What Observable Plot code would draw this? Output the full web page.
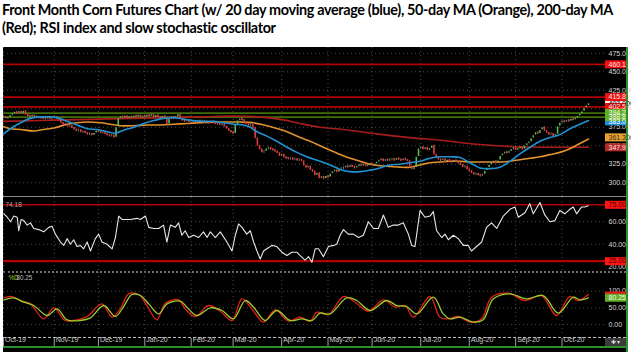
<!DOCTYPE html>
<html><head><meta charset="utf-8">
<script src="https://cdn.jsdelivr.net/npm/d3@7"></script>
<script src="https://cdn.jsdelivr.net/npm/@observablehq/plot@0.6"></script>
<style>
body{margin:0;background:#fff;}
#wrap{position:relative;width:631px;height:352px;overflow:hidden;background:#fff;}
#title{position:absolute;left:2px;top:1px;white-space:nowrap;font-family:Lato,"Open Sans",sans-serif;font-weight:700;font-size:14.4px;line-height:18px;color:#000;}
#chart{position:absolute;left:3px;top:47px;width:625px;height:305px;background:#000;}
#chart svg{position:absolute;left:0;display:block;}
.sep{position:absolute;left:0;width:623px;}
</style></head>
<body><div id="wrap">
<div id="title"><span id="t1">Front Month Corn Futures Chart (w/ 20 day moving average (blue), 50-day MA (Orange), 200-day MA</span><br><span id="t2">(Red); RSI index and slow stochastic oscillator</span></div>
<div id="chart"></div>
</div>
<script>
// ---------- DATA ----------
const monthLabels = ["Oct-19","Nov-19","Dec-19","Jan-20","Feb-20","Mar-20","Apr-20","May-20","Jun-20","Jul-20","Aug-20","Sep-20","Oct-20"];
const holidays = ["2019-11-28","2019-12-25","2020-01-01","2020-01-20","2020-02-17","2020-04-10","2020-05-25","2020-07-03","2020-09-07"];
const firstOpen = 388;
const closes = [
389,387,388,391,393, 395,394,396,393,397,
392,390,389,391,388,389,387,388,386, 387,388,386,387,389,386,
384,381,378,379,376,377,374,
372,370,371,368,369,367,365,366,364,367,
370,369,367,368,366,364,363,364,361,
375,387,
389,388,390,387,389,388,390,389,391,388,390,389,391,
390,392,388,391,389,387,390,388,
379,
386,388,387,389,392,
386,384,383,385,382,383,381,382,384,382,
383,381,382,380,382,381,379,380,378,379,
376,373,370,368,366,
378,384,386,385,
381,379,377,378,374,
360,350,345,341,
342,346,347,345,344,342,340,336,338,
334,333,332,333,331,
332,330,331,329,
323,320,322,317,
315,310,313,306,
308,305,309,307,
312,315,317,314,318,319,
320,322,321,323,321,320,322,324,
323,325,322,324,326,323,325,
328,330,332,329,331,330,
331,332,330,333,331,330,332,331,329,
322,318,320,
335,346,348,345,
347,344,346,350,
338,334,331,
330,332,328,331,329,327,330,328,326,
324,321,322,318,316,
313,311,312,310,309,311,
316,320,324,
327,329,326,330,
336,339,341,340,342,
345,347,344,346,348,345,
350,353,355,
360,364,368,366,371,375,
370,367,365,366,363,365,
376,381,383,
382,384,383,386,385,387,
390,393,396,
401,404,407
];
const ma20Day = [0,3.2,7.7,12.2,16.7,21.3,24.3,28.8,33.3,37.9,42.4,46.9,50.7,54.4,59,63.5,68,72.5,77,81.6,86,90.6,95.2,99.7,104.2,108.7,111.8,114.8,119.3,123.8,128.4,132.9,137.4,143.4,147.9,152.5,157,161.5,166,170.6,175.1,179.6,184.1,188.7,193.2,197.7,202.3,206.8,211.3,215.8,220.4,224.9,229.4,233.9,238.5,243,247.5,252,256.6,261.1,265];
const ma20 = [366,373,381,387,389,389,388,383,378,373,372,369,367,371,375,380,384,387,388,386,384,383,383,381,379,378,375,369,363,356,348,341,335,329,324,318,315,315,317,320,324,325,327,329,333,335,335,334,327,320,319,321,329,339,348,356,361,365,373,379,384];
const ma50Day = [0,3.2,7.7,13.7,18.2,22.8,28.8,33.3,37.9,43.9,48.4,52.9,59,65,71,77,83.1,89.1,95.2,101.2,107.2,113.3,118,123,128.4,134.4,138.9,143.4,148,152.5,157,161.5,166,170.6,175.1,179.6,184.1,188.7,193.2,197.7,202.3,206.8,211.3,215.8,220.4,224.9,229.4,233.9,238.5,243,247.5,252,256.6,261.1,265];
const ma50 = [376,373,372,370,372,374,379,381,382,381,379,377,377,378,378,379,380,381,382,382,382,381,378,374,369,361,356,350,344,338,333,329,325,323,322,321,321,324,327,328,329,329,328,328,328,328,329,331,333,335,338,341,346,353,359];
const ma200Day = [0,28.8,59,89.1,104.2,116.3,126.8,134.4,143.4,154,169,184.1,199.2,214.3,229.4,244.5,265];
const ma200 = [383,385,387,389,390,389,385,380,375,372,366,361,357,352,349,348,347.9];
const levelValues = [460.111, 415.823, 402.528, 394.225, 388.813];
const levelKinds  = ["resistance","resistance","resistance","support","support"];
const priceTicks = [300,325,350,375,400,425,450,475];
const priceBoxes = [
  {v:407,     text:"407.000", kind:"last"},
  {v:460.111, text:"460.111", kind:"resistance"},
  {v:415.823, text:"415.823", kind:"resistance"},
  {v:402.528, text:"402.528", kind:"resistance"},
  {v:383,     text:"383.000", kind:"ma20"},
  {v:394.225, text:"394.225", kind:"support"},
  {v:388.813, text:"388.813", kind:"support"},
  {v:361.3,   text:"361.300", kind:"ma50"},
  {v:347.925, text:"347.925", kind:"ma200"}
];
const rsiDay = [0.2,1.7,3.2,4.7,6.2,6.9,8,9.2,10.7,12.2,13.7,16,18.2,20.5,22,23.5,25.8,27.3,28.8,30.3,31.8,33.3,34.8,36.3,37.9,39.4,41.6,43.1,44.6,46.9,49.2,50.7,52.2,53.7,55.2,57.5,60.5,62,64.3,65.8,68,70.3,72.5,74,75.6,77.8,79.3,80.8,82.3,83.9,86.1,88.4,90.6,92.2,93.7,95.9,98.2,101.2,103.5,105,106.5,108,110.2,111.8,113.3,114.8,116.3,117.8,119.3,121.6,123.8,126.1,128.4,130.6,132.9,134.4,136.6,138.2,139.7,141.2,142.7,144.9,147.2,149.5,151,152.5,154,156.2,158.5,160.8,163,165.3,167.6,169.8,172.1,174.3,176.6,178.9,181.1,183.4,184.9,186.4,188.7,190.9,193.2,194.7,196.2,198.5,200,201.5,203.8,206,208.3,210.5,212,214.3,216.6,218.8,221.1,223.4,226.4,229.4,231.7,233.2,236.2,238.4,240,243,245.2,247.5,249.8,252,254.3,256.5,258.1,259.6,261.8,263.3,264.9];
const rsiValue = [67,64,60,65,64,52,62,61,57,59,54,53,51,55,56,49,42,39,45,40,44,38,39,36,42,34,45,49,42,40,36,46,65,62,62,62,63,62,65,55,54,54,57,42,57,55,59,48,52,46,48,46,51,46,51,46,51,42,34,48,58,55,49,52,42,34,27,34,36,39,38,33,30,33,33,30,26,29,24,36,36,29,38,39,40,48,53,49,49,46,48,60,54,54,66,55,57,57,59,49,39,38,70,64,65,69,52,46,49,44,48,45,39,39,34,38,42,55,59,54,65,71,73,64,68,76,67,77,66,60,61,70,67,71,73,67,73,73,74.18];
const rsiTicks = [20,40,60];
const rsiLevels = [75,25];
const stochDDay = [0.2,4.7,9.2,13.7,19.8,24.3,28.8,34.8,39.4,45.4,50.7,54.4,58.2,62,65.8,70.3,74.1,80.1,83.1,87.6,93.7,99,104.2,109.5,113.3,118.5,123.8,129.9,135.1,139.7,143.4,148,155.5,160,166,173.6,178.1,182.6,187.2,194.7,199.2,202.2,206.8,212.8,217.3,221.9,229.4,236.9,244.5,251.3,258.1,261.1,264.9];
const stochD = [74,80,67,57,27,47,14,12,20,57,24,54,90,87,62,32,62,70,52,27,50,42,17,72,52,12,42,12,17,12,34,32,80,72,42,72,57,54,32,82,32,17,22,7,14,77,92,77,87,34,82,74,80.25];
const stochKDay = [0.2,3.9,7.7,12.2,18.2,22.8,28,33.3,37.9,44.6,49.2,52.9,56.7,61.2,65,69.5,73.3,79.3,82.3,86.9,92.9,98.2,103.5,108,112.5,117.8,123.1,129.1,134.4,138.9,141.9,147.2,154,159.3,165.3,172.1,177.4,181.9,185.7,193.2,197.7,201.5,206,211.3,216.6,221.1,228.6,236.2,243.7,250.5,256.5,260.3,264.9];
const stochK = [80,84,72,62,17,50,12,14,24,62,22,47,92,90,57,14,64,74,47,24,57,40,12,77,47,7,44,10,22,10,37,30,84,67,40,74,52,57,22,84,22,17,24,7,17,82,94,72,87,27,84,72,90];
const stochTicks = [0,50,100];

// ---------- STYLE ----------
const C = {
  grid:"#4a4a4a", up:"#5fbf4e", down:"#e23a3a", wick:"#9a9a9a",
  ma20:"#2191d3", ma50:"#e0922e", ma200:"#a81c1c",
  resistance:"#b30000", support:"#3f6e0a",
  tick:"#d8d8d8", rsi:"#e8e8e8", rsiLine:"#b30000",
  k:"#e3201b", d:"#9ccc2e"
};
const boxFill = {last:"#ffffff", resistance:"#ee1010", support:"#62ad24", ma20:"#1e8fd6", ma50:"#e8a234", ma200:"#b32a2a"};
const boxText = {last:"#000", resistance:"#ffe8e8", support:"#f4fff0", ma20:"#fff", ma50:"#3a2a10", ma200:"#ffe0e0"};
const FONT = '"Liberation Sans",Arial,sans-serif';

// ---------- DERIVED ----------
const N = closes.length;
function tradingDays(n){
  const out=[]; const d=new Date(Date.UTC(2019,9,1));
  while(out.length<n){
    const w=d.getUTCDay(), s=d.toISOString().slice(0,10);
    if(w!==0&&w!==6&&!holidays.includes(s)) out.push(new Date(d));
    d.setUTCDate(d.getUTCDate()+1);
  }
  return out;
}
const dates = tradingDays(N);
const monthStarts = [];
dates.forEach((d,i)=>{ if(i===0 || d.getUTCMonth()!==dates[i-1].getUTCMonth()) monthStarts.push(i); });
const months = monthStarts.map((i,k)=>({i, label: monthLabels[k]}));
const candles = closes.map((c,i)=>{ const o = i? closes[i-1] : firstOpen; return {i, o, c, lo: Math.min(o,c), hi: Math.max(o,c), col: c>=o? C.up : C.down}; });
const zip = (xs, ys) => xs.map((x,k)=>({x, y: ys[k]}));

const W = 625, MR = 23;
const xScale = {domain:[0, N-1], range:[0, 585]};
const chart = document.getElementById("chart");
function place(svg, top){ svg.style.top = top+"px"; chart.appendChild(svg); }
function sepDiv(top, css){ const d=document.createElement("div"); d.className="sep"; d.style.top=top+"px"; d.style.cssText += css; chart.appendChild(d); }
// squeeze small labels horizontally to the narrow terminal font of the original
function condense(svg, label, perChar){
  svg.querySelectorAll(`g[aria-label="${label}"] text`).forEach(t=>{
    const natural = t.getComputedTextLength();
    const want = t.textContent.length * perChar;
    if (!(natural > want)) return;
    const s = want / natural;
    const x = +(t.getAttribute("x")||0), y = +(t.getAttribute("y")||0);
    const tr = t.getAttribute("transform") || "";
    t.setAttribute("transform", `${tr} translate(${x},${y}) scale(${s.toFixed(4)},1) translate(${-x},${-y})`);
  });
}

const monthGrid = (insetBottom=0) => Plot.ruleX(monthStarts, {x: d=>d, stroke: C.grid, strokeDasharray:"1,3", insetBottom});
const tickText = (ticks, fmt) => Plot.text(ticks, {y: d=>d, text: fmt, frameAnchor:"right", dx: 3, textAnchor:"start", fill: C.tick, fontSize: 7, fontFamily: FONT, ariaLabel:"small"});
const boxRule = (data, opts) => Plot.ruleY(data, {strokeWidth: 8, insetLeft: W-MR, insetRight: -21, ...opts});
const boxLabel = (data, opts) => Plot.text(data, {frameAnchor:"right", dx: 3, textAnchor:"start", fontSize: 7, fontFamily: FONT, ariaLabel:"small", ...opts});

// ---------- PRICE PANEL ----------
const levels = levelValues.map((v,k)=>({v, kind: levelKinds[k]}));
const price = Plot.plot({
  width: W, height: 149, marginLeft: 0, marginRight: MR, marginTop: 0, marginBottom: 0,
  x: {...xScale, axis: null},
  y: {domain:[300,475], range:[135.2, 5.8], axis: null},
  style: {background:"transparent", overflow:"visible"},
  marks: [
    Plot.ruleY(priceTicks, {y: d=>d, stroke: C.grid, strokeDasharray:"1,3"}),
    monthGrid(),
    Plot.ruleY(levels, {y:"v", stroke: d=>C[d.kind], strokeWidth: 1.7}),
    Plot.line(zip(ma200Day, ma200), {x:"x", y:"y", stroke: C.ma200, strokeWidth: 1.6, curve:"catmull-rom"}),
    Plot.line(zip(ma50Day, ma50), {x:"x", y:"y", stroke: C.ma50, strokeWidth: 1.6, curve:"catmull-rom"}),
    Plot.ruleX(candles, {x:"i", y1:"lo", y2:"hi", stroke: C.wick, strokeWidth: 0.7, insetTop: -1.8, insetBottom: -1.8}),
    Plot.ruleX(candles, {x:"i", y1:"o", y2:"c", stroke:"col", strokeWidth: 1.5, insetTop: -0.4, insetBottom: -0.4}),
    Plot.line(zip(ma20Day, ma20), {x:"x", y:"y", stroke: C.ma20, strokeWidth: 1.6, curve:"catmull-rom"}),
    tickText(priceTicks, d=>d.toFixed(3)),
    boxRule(priceBoxes, {y:"v", stroke: d=>boxFill[d.kind]}),
    boxLabel(priceBoxes, {y:"v", text:"text", fill: d=>boxText[d.kind]})
  ]
});
place(price, 0);
condense(price, "small", 2.6);
sepDiv(149, "border-top:1px solid #8a8a8a;");

// ---------- RSI PANEL ----------
const rsiBoxes = rsiLevels.map(v=>({v, text: v.toFixed(2)}));
const rsi = Plot.plot({
  width: W, height: 74, marginLeft: 0, marginRight: MR, marginTop: 0, marginBottom: 0,
  x: {...xScale, axis: null},
  y: {domain:[25,75], range:[63.7, 7.3], axis: null},
  style: {background:"transparent", overflow:"visible"},
  marks: [
    Plot.ruleY([40,60], {y: d=>d, stroke: C.grid, strokeDasharray:"1,3"}),
    monthGrid(),
    Plot.ruleY(rsiLevels, {y: d=>d, stroke: C.rsiLine, strokeWidth: d=> d===25 ? 2.2 : 1.5}),
    Plot.line(zip(rsiDay, rsiValue), {x:"x", y:"y", stroke: C.rsi, strokeWidth: 1.1}),
    tickText(rsiTicks, d=>d.toFixed(2)),
    boxRule(rsiBoxes, {y:"v", stroke:"#ff1414"}),
    boxLabel(rsiBoxes, {y:"v", text:"text", fill:"#3a0000"}),
    Plot.text([rsiValue[rsiValue.length-1]], {frameAnchor:"top-left", dx: 2, dy: 5, text: d=>d.toFixed(2), fill:"#a8a8a8", fontSize: 6.5, fontFamily: FONT, textAnchor:"start", ariaLabel:"small"})
  ]
});
place(rsi, 150);
condense(rsi, "small", 2.7);
sepDiv(224, "border-top:2px dotted #6e6e6e;");

// ---------- STOCHASTIC PANEL + DATE AXIS ----------
const lastD = stochD[stochD.length-1], lastK = stochK[stochK.length-1];
const stoch = Plot.plot({
  width: W, height: 80, marginLeft: 0, marginRight: MR, marginTop: 0, marginBottom: 0,
  x: {...xScale, axis: null},
  y: {domain:[0,100], range:[52, 18.7], axis: null},
  style: {background:"transparent", overflow:"visible"},
  marks: [
    Plot.ruleY(stochTicks, {y: d=>d, stroke: C.grid, strokeDasharray:"1,3"}),
    monthGrid(16),
    Plot.line(zip(stochKDay, stochK), {x:"x", y:"y", stroke: C.k, strokeWidth: 1.3, curve:"catmull-rom"}),
    Plot.line(zip(stochDDay, stochD), {x:"x", y:"y", stroke: C.d, strokeWidth: 1.3, curve:"catmull-rom"}),
    tickText(stochTicks, d=>d.toFixed(2)),
    boxRule([lastK], {y: d=>d, stroke:"#e41818", strokeWidth: 6}),
    boxRule([lastD], {y: d=>d, stroke:"#62ad24"}),
    boxLabel([lastD], {y: d=>d, text: d=>d.toFixed(2), fill:"#f4fff0"}),
    Plot.text(["%D"], {frameAnchor:"top-left", dx: 5, dy: 3, text: d=>d, fill: C.d, fontSize: 6.3, fontFamily: FONT, textAnchor:"start", ariaLabel:"small"}),
    Plot.text([lastD], {frameAnchor:"top-left", dx: 13, dy: 3, text: d=>d.toFixed(2), fill:"#bdbdbd", fontSize: 6.3, fontFamily: FONT, textAnchor:"start", ariaLabel:"small"}),
    Plot.ruleX(months, {x:"i", stroke:"#a0a0a0", strokeWidth: 1, insetTop: 66, insetBottom: 6}),
    Plot.text(months, {x:"i", text:"label", frameAnchor:"bottom", dy: -10.5, dx: 1.5, textAnchor:"start", fill:"#cfcfcf", fontSize: 7, fontFamily: FONT, ariaLabel:"month"})
  ]
});
place(stoch, 225);
condense(stoch, "small", 2.7);
condense(stoch, "month", 2.8);
sepDiv(289.5, "border-top:1px dashed #bdbdbd;");
sepDiv(299, "border-top:2px solid #2f8f2f;width:625px;");
const edge = document.createElement("div");
edge.style.cssText = "position:absolute;left:623px;top:0;width:1.5px;height:305px;background:#2f8f2f;";
chart.appendChild(edge);
const ctl = document.createElement("div");
ctl.style.cssText = "position:absolute;left:602px;top:291px;width:21px;height:8px;background:#3a3a3a;color:#ddd;font:6px "+FONT+";line-height:8px;text-align:center;overflow:hidden;";
ctl.textContent = "\u271A \u25BE";
chart.appendChild(ctl);

// fit title line 1 to the width it has in the original
const t1 = document.getElementById("t1");
const target = 611, w1 = t1.getBoundingClientRect().width;
const ls = (target - w1) / t1.textContent.length;
document.getElementById("title").style.letterSpacing = ls.toFixed(3) + "px";
</script></body></html>
